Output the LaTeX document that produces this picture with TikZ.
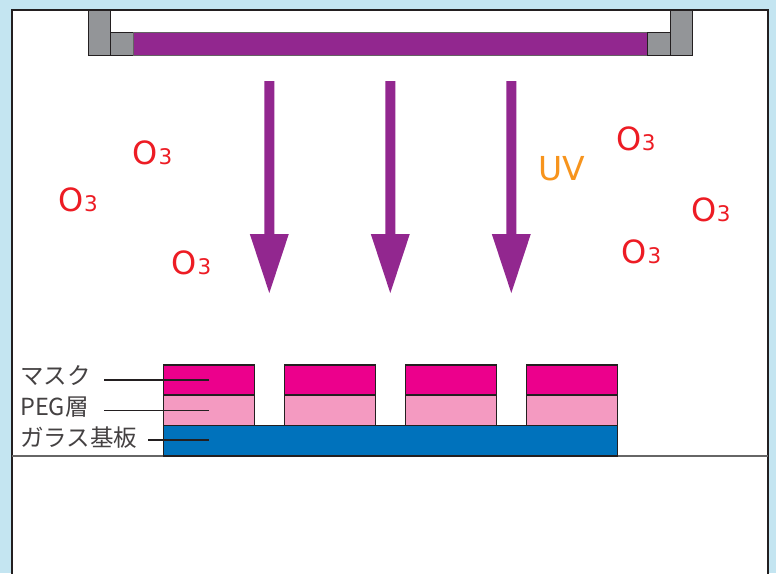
\documentclass[tikz,border=0pt]{standalone}
\usepackage{fontspec}
\setmainfont{Fira Sans}
\newfontfamily\jpfont{Noto Sans CJK JP}
\newfontfamily\ozfont{DejaVu Sans}
\definecolor{uvpurple}{HTML}{92278F}
\definecolor{maskmag}{HTML}{EC008C}
\definecolor{pegpink}{HTML}{F49AC1}
\definecolor{glassblue}{HTML}{0072BC}
\definecolor{lampgray}{HTML}{939598}
\definecolor{ozred}{HTML}{ED1C24}
\definecolor{uvorange}{HTML}{F7941D}
\definecolor{inkdark}{HTML}{231F20}
\definecolor{bgblue}{HTML}{C4E5F1}
\newcommand{\Othree}{{\fontsize{32}{32}\selectfont O}\kern0.5pt{\fontsize{21.5}{21.5}\selectfont 3}}
\begin{document}
\begin{tikzpicture}[x=1pt,y=-1pt,
  lampbox/.style={fill=lampgray,draw=inkdark,line width=1pt},
  lampbar/.style={fill=uvpurple,draw=inkdark!70,line width=0.8pt},
  maskbox/.style={fill=maskmag,draw=inkdark,line width=1.2pt},
  pegbox/.style={fill=pegpink,draw=inkdark,line width=1.2pt},
  glassbox/.style={fill=glassblue,draw=inkdark,line width=1.2pt},
  uvarrow/.style={fill=uvpurple,draw=none},
  ozone/.style={text=ozred,inner sep=0pt,anchor=base west,font=\ozfont},
  lbl/.style={text=inkdark!85,inner sep=0pt,anchor=west,font=\jpfont\fontsize{23.5}{23.5}\selectfont},
  leader/.style={draw=inkdark,line width=1.1pt}]
\useasboundingbox (0,0) rectangle (776,573);
\fill[bgblue] (0,0) rectangle (776,573);
\begin{scope}
\clip (0,0) rectangle (776,573);
\draw[fill=white,draw=inkdark,line width=2.5pt] (12,10) rectangle (768,590);
\end{scope}
% ground line
\draw[draw=black!60,line width=1.5pt] (12,456) -- (768,456);
% lamp
\draw[lampbox] (88,10) rectangle (110.7,55);
\draw[lampbox] (110.7,32) rectangle (133,55);
\draw[lampbar] (133,32) rectangle (647.7,55);
\draw[lampbox] (647.7,32) rectangle (670.3,55);
\draw[lampbox] (670.3,10) rectangle (692.7,55);
% arrows
\foreach \c in {269.3,390.3,511.3}{
  \fill[uvarrow] (\c-5,81) -- (\c+5,81) -- (\c+5,234) -- (\c+19.5,234) -- (\c,293) -- (\c-19.5,234) -- (\c-5,234) -- cycle;
}
% layers
\draw[glassbox] (163.3,425.5) rectangle (617.3,456);
\foreach \i/\x in {1/163.3,2/284.3,3/405.3,4/526.3}{
  \draw[pegbox] (\x,395) rectangle (\x+91,425.5);
  \draw[maskbox] (\x,365) rectangle (\x+91,395);
}
\coordinate (maskpt) at (209,380);
\coordinate (pegpt) at (209,410.7);
\coordinate (glasspt) at (209,440);
% labels
\node[lbl] (lmask) at (20,376) {マスク};
\node[lbl] (lpeg) at (20,407.5) {PEG層};
\node[lbl] (lglass) at (20,438) {ガラス基板};
\coordinate (maskst) at (104,380);
\coordinate (pegst) at (104,410.7);
\coordinate (glassst) at (148,440);
\draw[leader] (maskst) -- (maskpt);
\draw[leader] (pegst) -- (pegpt);
\draw[leader] (glassst) -- (glasspt);
% ozone and UV
\node[ozone] (o1) at (132.7,164) {\Othree};
\node[ozone] (o2) at (58.3,211.7) {\Othree};
\node[ozone] (o3) at (171.7,274) {\Othree};
\node[ozone] (o4) at (616,150) {\Othree};
\node[ozone] (o5) at (691,221) {\Othree};
\node[ozone] (o6) at (621.7,263) {\Othree};
\node[text=uvorange,inner sep=0pt,anchor=base west,font=\ozfont\fontsize{33}{33}\selectfont] (uv) at (538.3,180) {UV};
\end{tikzpicture}
\end{document}
